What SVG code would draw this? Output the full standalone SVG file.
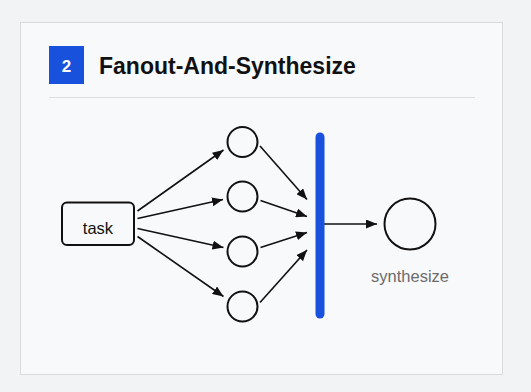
<svg xmlns="http://www.w3.org/2000/svg" width="531" height="392" viewBox="0 0 531 392">
<style>
.edge{stroke:#111;stroke-width:1.6;fill:none;marker-end:url(#ah)}
.node{fill:none;stroke:#111;stroke-width:2}
.lbl{font-family:"Liberation Sans",Arial,sans-serif}
</style>
<defs>
<marker id="ah" markerUnits="userSpaceOnUse" markerWidth="11" markerHeight="9" refX="11" refY="4.5" orient="auto">
<path d="M0,0 L11,4.5 L0,9 z" fill="#111"/>
</marker>
</defs>
<rect x="0" y="0" width="531" height="392" fill="#f2f3f5"/>
<rect id="card" x="20.5" y="22.5" width="482" height="352" fill="#f8f9fb" stroke="#d8dadd" stroke-width="1"/>
<g id="header">
<rect x="49" y="46" width="35" height="38" fill="#1852dc"/>
<text class="lbl" x="66.5" y="72" font-size="17" font-weight="bold" fill="#fff" text-anchor="middle">2</text>
<text class="lbl" x="99" y="74" font-size="23" font-weight="bold" fill="#111">Fanout-And-Synthesize</text>
<line x1="49" y1="97.5" x2="475" y2="97.5" stroke="#dcdee1" stroke-width="1"/>
</g>
<g id="connectors">
<line class="edge" x1="137.5" y1="211" x2="223.5" y2="150"/>
<line class="edge" x1="137.5" y1="218.5" x2="223" y2="199.5"/>
<line class="edge" x1="137.5" y1="228.5" x2="223.5" y2="247.5"/>
<line class="edge" x1="137.5" y1="236.5" x2="223.5" y2="296.5"/>
<line class="edge" x1="260" y1="146" x2="307" y2="199.5"/>
<line class="edge" x1="260.5" y1="200.5" x2="307" y2="216.5"/>
<line class="edge" x1="260.5" y1="247.5" x2="307" y2="232.5"/>
<line class="edge" x1="260" y1="302.5" x2="307" y2="250"/>
<line class="edge" x1="324" y1="224" x2="377" y2="224"/>
</g>
<g id="task">
<rect class="node" x="62" y="202.5" width="72" height="42.5" rx="5"/>
<text class="lbl" x="98" y="234" font-size="16.5" fill="#111" text-anchor="middle">task</text>
</g>
<g id="worker1"><circle class="node" cx="242.5" cy="142" r="15"/></g>
<g id="worker2"><circle class="node" cx="242.5" cy="196.5" r="15"/></g>
<g id="worker3"><circle class="node" cx="242.5" cy="251.5" r="15"/></g>
<g id="worker4"><circle class="node" cx="242.5" cy="306.5" r="15"/></g>
<g id="barrier">
<line x1="320" y1="137" x2="320" y2="314" stroke="#1852dc" stroke-width="9" stroke-linecap="round"/>
</g>
<g id="synthesize">
<circle class="node" cx="410" cy="224" r="25.5"/>
<text class="lbl" x="410" y="282" font-size="16.5" fill="#6b6b6b" text-anchor="middle">synthesize</text>
</g>
</svg>
